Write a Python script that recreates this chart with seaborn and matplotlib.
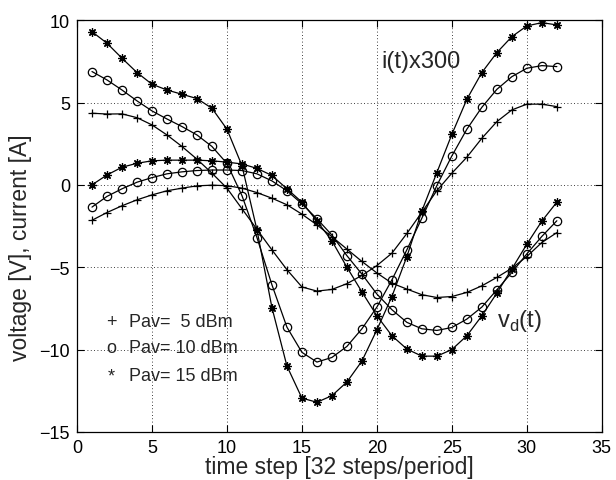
import numpy as np
import pandas as pd
import matplotlib
matplotlib.use("Agg")
import matplotlib.pyplot as plt
import seaborn as sns

# time steps (32 steps per period)
t = list(range(1, 33))

# current i(t) x 300, one series per available power
cur_5 = [4.35, 4.3, 4.31, 4.08, 3.64, 3.03, 2.33, 1.56, 0.71, -0.2, -1.45, -2.7,
         -3.95, -5.15, -6.2, -6.45, -6.35, -6.0, -5.5, -4.9, -4.15, -2.95, -1.66, -0.35,
         0.71, 1.68, 2.83, 3.84, 4.55, 4.9, 4.9, 4.75]
cur_10 = [6.88, 6.37, 5.76, 5.1, 4.49, 4.0, 3.54, 3.03, 2.33, 1.3, -0.65, -3.2,
          -6.07, -8.64, -10.17, -10.76, -10.48, -9.81, -8.74, -7.42, -5.77, -3.94, -2.02, -0.04,
          1.76, 3.38, 4.71, 5.8, 6.57, 7.08, 7.24, 7.18]
cur_15 = [9.3, 8.6, 7.69, 6.82, 6.11, 5.76, 5.5, 5.24, 4.65, 3.38, 1.17, -2.73,
          -7.45, -11.0, -12.95, -13.2, -12.8, -11.97, -10.7, -8.8, -6.78, -4.35, -1.58, 0.75,
          3.07, 5.2, 6.82, 8.03, 9.0, 9.65, 9.85, 9.71]

# diode voltage vd(t)
volt_5 = [-2.15, -1.68, -1.27, -0.91, -0.61, -0.36, -0.2, -0.06, -0.02, -0.05, -0.2, -0.47,
          -0.81, -1.21, -1.78, -2.43, -3.15, -3.9, -4.65, -5.35, -5.97, -6.33, -6.67, -6.84,
          -6.78, -6.53, -6.13, -5.62, -5.06, -4.35, -3.5, -2.9]
volt_10 = [-1.35, -0.7, -0.24, 0.16, 0.44, 0.67, 0.79, 0.87, 0.9, 0.9, 0.87, 0.67,
           0.24, -0.36, -1.15, -2.06, -3.05, -4.3, -5.42, -6.63, -7.58, -8.35, -8.74, -8.84,
           -8.66, -8.15, -7.42, -6.37, -5.32, -4.19, -3.13, -2.18]
volt_15 = [0.0, 0.6, 1.07, 1.31, 1.46, 1.5, 1.5, 1.5, 1.46, 1.38, 1.27, 1.0,
           0.57, -0.24, -1.05, -2.2, -3.4, -5.0, -6.5, -7.95, -9.16, -9.97, -10.4, -10.4,
           -10.0, -9.16, -7.95, -6.57, -5.1, -3.6, -2.2, -1.05]

powers = ["5", "10", "15"]
legend_marks = ["+", "o", "*"]
legend_labels = ["Pav=  5 dBm", "Pav= 10 dBm", "Pav= 15 dBm"]

# long form table
rows = []
for qty, series in [("current", [cur_5, cur_10, cur_15]), ("voltage", [volt_5, volt_10, volt_15])]:
    for p, vals in zip(powers, series):
        for ti, v in zip(t, vals):
            rows.append({"t": ti, "value": v, "power": p, "curve": qty + p})
df = pd.DataFrame(rows)

sns.set_style("ticks")
plt.rcParams["font.family"] = ["Liberation Sans", "DejaVu Sans"]
plt.rcParams["mathtext.fontset"] = "custom"
plt.rcParams["mathtext.rm"] = "Liberation Sans"

fig = plt.figure(figsize=(6.16, 4.81), dpi=100)
ax = fig.add_axes([0.125, 0.1, 0.852, 0.856])

plot_markers = {"5": "+", "10": "o", "15": (8, 2, 0)}
for p in powers:
    sns.lineplot(
        data=df[df["power"] == p], x="t", y="value", units="curve", estimator=None,
        marker=plot_markers[p], color="black", linewidth=0.9, markersize=6,
        markeredgewidth=0.9, markeredgecolor="black", markerfacecolor="none",
        legend=False, sort=False, ax=ax,
    )

ax.set_xlim(0, 35)
ax.set_ylim(-15, 10)
ax.set_xticks(np.arange(0, 36, 5))
ax.set_yticks(np.arange(-15, 11, 5))
ax.grid(True, color="black", linestyle=(0, (1, 3)), linewidth=0.6)
ax.tick_params(direction="in", top=True, right=True, labelsize=13, length=5, width=0.8,
               colors="black", pad=5)
for s in ax.spines.values():
    s.set_linewidth(0.9)
    s.set_color("black")

ax.set_xlabel("time step [32 steps/period]", fontsize=16.5)
ax.set_ylabel("voltage [V], current [A]", fontsize=16.5)
ax.xaxis.set_label_coords(0.5, -0.055)
ax.yaxis.set_label_coords(-0.085, 0.45)

ax.text(20.3, 7.5, "i(t)x300", fontsize=17, ha="left", va="center")
ax.text(28.0, -8.2, r"v$_\mathrm{d}$(t)", fontsize=17, ha="left", va="center")

for i, (m, lab) in enumerate(zip(legend_marks, legend_labels)):
    y = [-8.3, -9.9, -11.6][i]
    ax.text(2.3, y, m, fontsize=13, ha="center", va="center")
    ax.text(3.45, y, lab, fontsize=13, ha="left", va="center")

plt.savefig("out.png", dpi=100)
